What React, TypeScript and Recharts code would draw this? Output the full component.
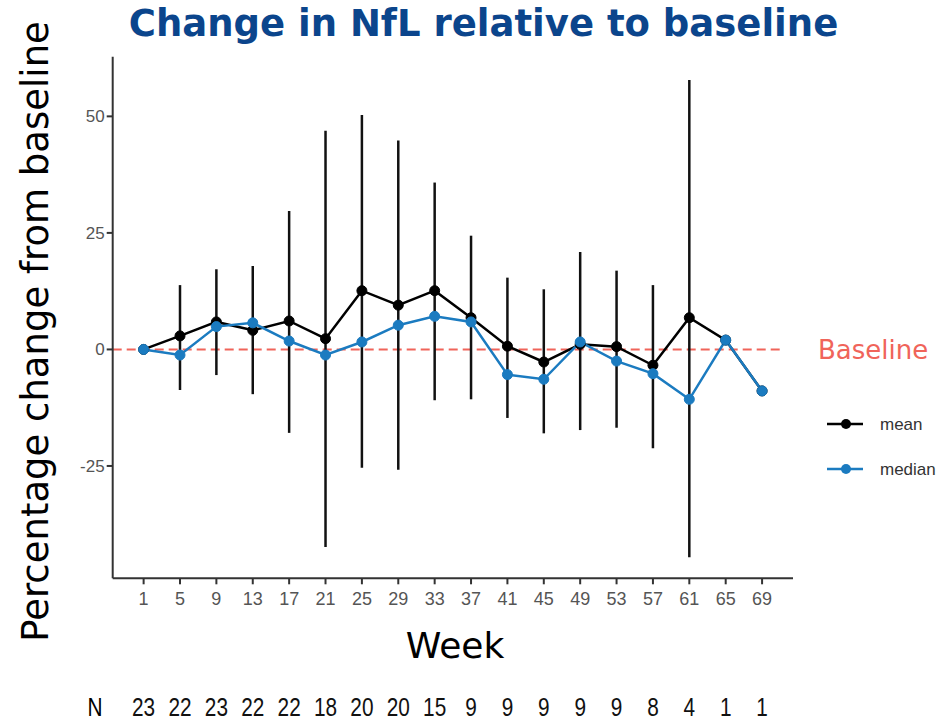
import React from 'react';
import { LineChart, Line, XAxis, YAxis, ErrorBar, ReferenceLine, Legend } from 'recharts';

const weeks = [1, 5, 9, 13, 17, 21, 25, 29, 33, 37, 41, 45, 49, 53, 57, 61, 65, 69];
const meanVals = [0, 2.9, 5.9, 4.1, 6.1, 2.3, 12.6, 9.5, 12.6, 6.8, 0.7, -2.7, 1.1, 0.6, -3.4, 6.8, 2.0, -8.9];
const medianVals = [0, -1.2, 4.9, 5.7, 1.8, -1.2, 1.6, 5.2, 7.1, 5.9, -5.4, -6.4, 1.6, -2.5, -5.2, -10.7, 2.0, -8.9];
const upperVals: (number | null)[] = [null, 13.8, 17.2, 17.9, 29.7, 46.9, 50.3, 44.8, 35.8, 24.4, 15.4, 12.9, 20.9, 16.9, 13.8, 57.8, null, null];
const lowerVals: (number | null)[] = [null, -8.7, -5.5, -9.6, -17.9, -42.4, -25.4, -25.8, -10.9, -10.7, -14.7, -18.0, -17.3, -16.8, -21.2, -44.6, null, null];
const nCounts = [23, 22, 23, 22, 22, 18, 20, 20, 15, 9, 9, 9, 9, 9, 8, 4, 1, 1];
const yTicks = [-25, 0, 25, 50];

const data = weeks.map((w, i) => ({
  week: w,
  mean: meanVals[i],
  median: medianVals[i],
  n: nCounts[i],
  err:
    upperVals[i] != null && lowerVals[i] != null
      ? [meanVals[i] - (lowerVals[i] as number), (upperVals[i] as number) - meanVals[i]]
      : undefined,
}));

const nByWeek: Record<number, number> = {};
weeks.forEach((w, i) => (nByWeek[w] = nCounts[i]));

const NARROW = 0.8;

const XTick = (props: any) => {
  const { x, y, payload } = props;
  return (
    <g>
      <text x={x} y={y + 19} textAnchor="middle" fontSize={18} fill="#555" fontFamily="'Liberation Sans', Arial, sans-serif">
        {payload.value}
      </text>
      <g transform={`translate(${x}, 0) scale(${NARROW}, 1)`}>
        <text x={0} y={y + 130} textAnchor="middle" fontSize={26} fill="#111" fontFamily="'Liberation Sans Narrow', 'Arial Narrow', 'Liberation Sans', sans-serif">
          {nByWeek[payload.value]}
        </text>
      </g>
    </g>
  );
};

const YTick = (props: any) => {
  const { x, y, payload } = props;
  return (
    <text x={x} y={y + 6} textAnchor="end" fontSize={17} fill="#555" fontFamily="'Liberation Sans', Arial, sans-serif">
      {payload.value}
    </text>
  );
};

const LegendContent = () => (
  <svg width={125} height={90}>
    {[
      { name: 'mean', color: '#000000', cy: 19 },
      { name: 'median', color: '#1b7bc0', cy: 64 },
    ].map((it) => (
      <g key={it.name}>
        <line x1={7} x2={43} y1={it.cy} y2={it.cy} stroke={it.color} strokeWidth={2.5} />
        <circle cx={26} cy={it.cy} r={5} fill={it.color} />
        <text x={60} y={it.cy + 6} fontSize={17} fill="#333" fontFamily="'Liberation Sans', Arial, sans-serif">
          {it.name}
        </text>
      </g>
    ))}
  </svg>
);

export default function App() {
  return (
    <div style={{ position: 'absolute', left: 0, top: 0, width: 945, height: 722, background: '#fff' }}>
      <LineChart
        width={945}
        height={722}
        data={data}
        margin={{ top: 56.7, left: 72.7, right: 152, bottom: 113.7 }}
      >
        <XAxis
          dataKey="week"
          type="number"
          domain={[-2.4, 72.4]}
          ticks={weeks}
          interval={0}
          height={30}
          stroke="#333"
          strokeWidth={2}
          tickSize={6}
          tickLine={{ stroke: '#333', strokeWidth: 2 }}
          tick={<XTick />}
          allowDataOverflow
        />
        <YAxis
          type="number"
          domain={[-49.1, 62.8]}
          ticks={yTicks}
          width={40}
          stroke="#333"
          strokeWidth={2}
          tickSize={6}
          tickLine={{ stroke: '#333', strokeWidth: 2 }}
          tick={<YTick />}
          allowDataOverflow
        />
        <ReferenceLine
          segment={[{ x: -2.4, y: 0 }, { x: 71.3, y: 0 }]}
          stroke="#f0645a"
          strokeWidth={2}
          strokeDasharray="9 5"
          label={{ value: 'Baseline', position: 'right', offset: 35, fill: '#f0645a', fontSize: 26, fontFamily: "'DejaVu Sans', sans-serif" }}
        />
        <Line
          dataKey="mean"
          stroke="#000"
          strokeWidth={2.5}
          dot={{ r: 5, fill: '#000', stroke: '#000', strokeWidth: 1 }}
          isAnimationActive={false}
          name="mean"
        >
          <ErrorBar dataKey="err" width={0} stroke="#111" strokeWidth={2.5} direction="y" />
        </Line>
        <Line
          dataKey="median"
          stroke="#1b7bc0"
          strokeWidth={2.5}
          dot={{ r: 5, fill: '#1b7bc0', stroke: '#1b7bc0', strokeWidth: 1 }}
          isAnimationActive={false}
          name="median"
        />
        <Legend
          layout="vertical"
          align="center"
          verticalAlign="middle"
          content={<LegendContent />}
          wrapperStyle={{ left: 820, top: 405, width: 125, height: 90 }}
        />
        <text x={483.5} y={36} textAnchor="middle" fontSize={37} fontWeight="bold" fill="#0b458c" fontFamily="'DejaVu Sans', Verdana, sans-serif">
          Change in NfL relative to baseline
        </text>
        <text
          x={48}
          y={331.5}
          transform="rotate(-90 48 331.5)"
          textAnchor="middle"
          fontSize={37}
          fill="#000"
          fontFamily="'DejaVu Sans', Verdana, sans-serif"
        >
          Percentage change from baseline
        </text>
        <text x={455} y={658} textAnchor="middle" fontSize={36} fill="#000" fontFamily="'DejaVu Sans', Verdana, sans-serif">
          Week
        </text>
        <g transform={`translate(95, 0) scale(${NARROW}, 1)`}>
          <text x={0} y={716} textAnchor="middle" fontSize={26} fill="#000" fontFamily="'Liberation Sans Narrow', 'Arial Narrow', 'Liberation Sans', sans-serif">
            N
          </text>
        </g>
      </LineChart>
    </div>
  );
}
